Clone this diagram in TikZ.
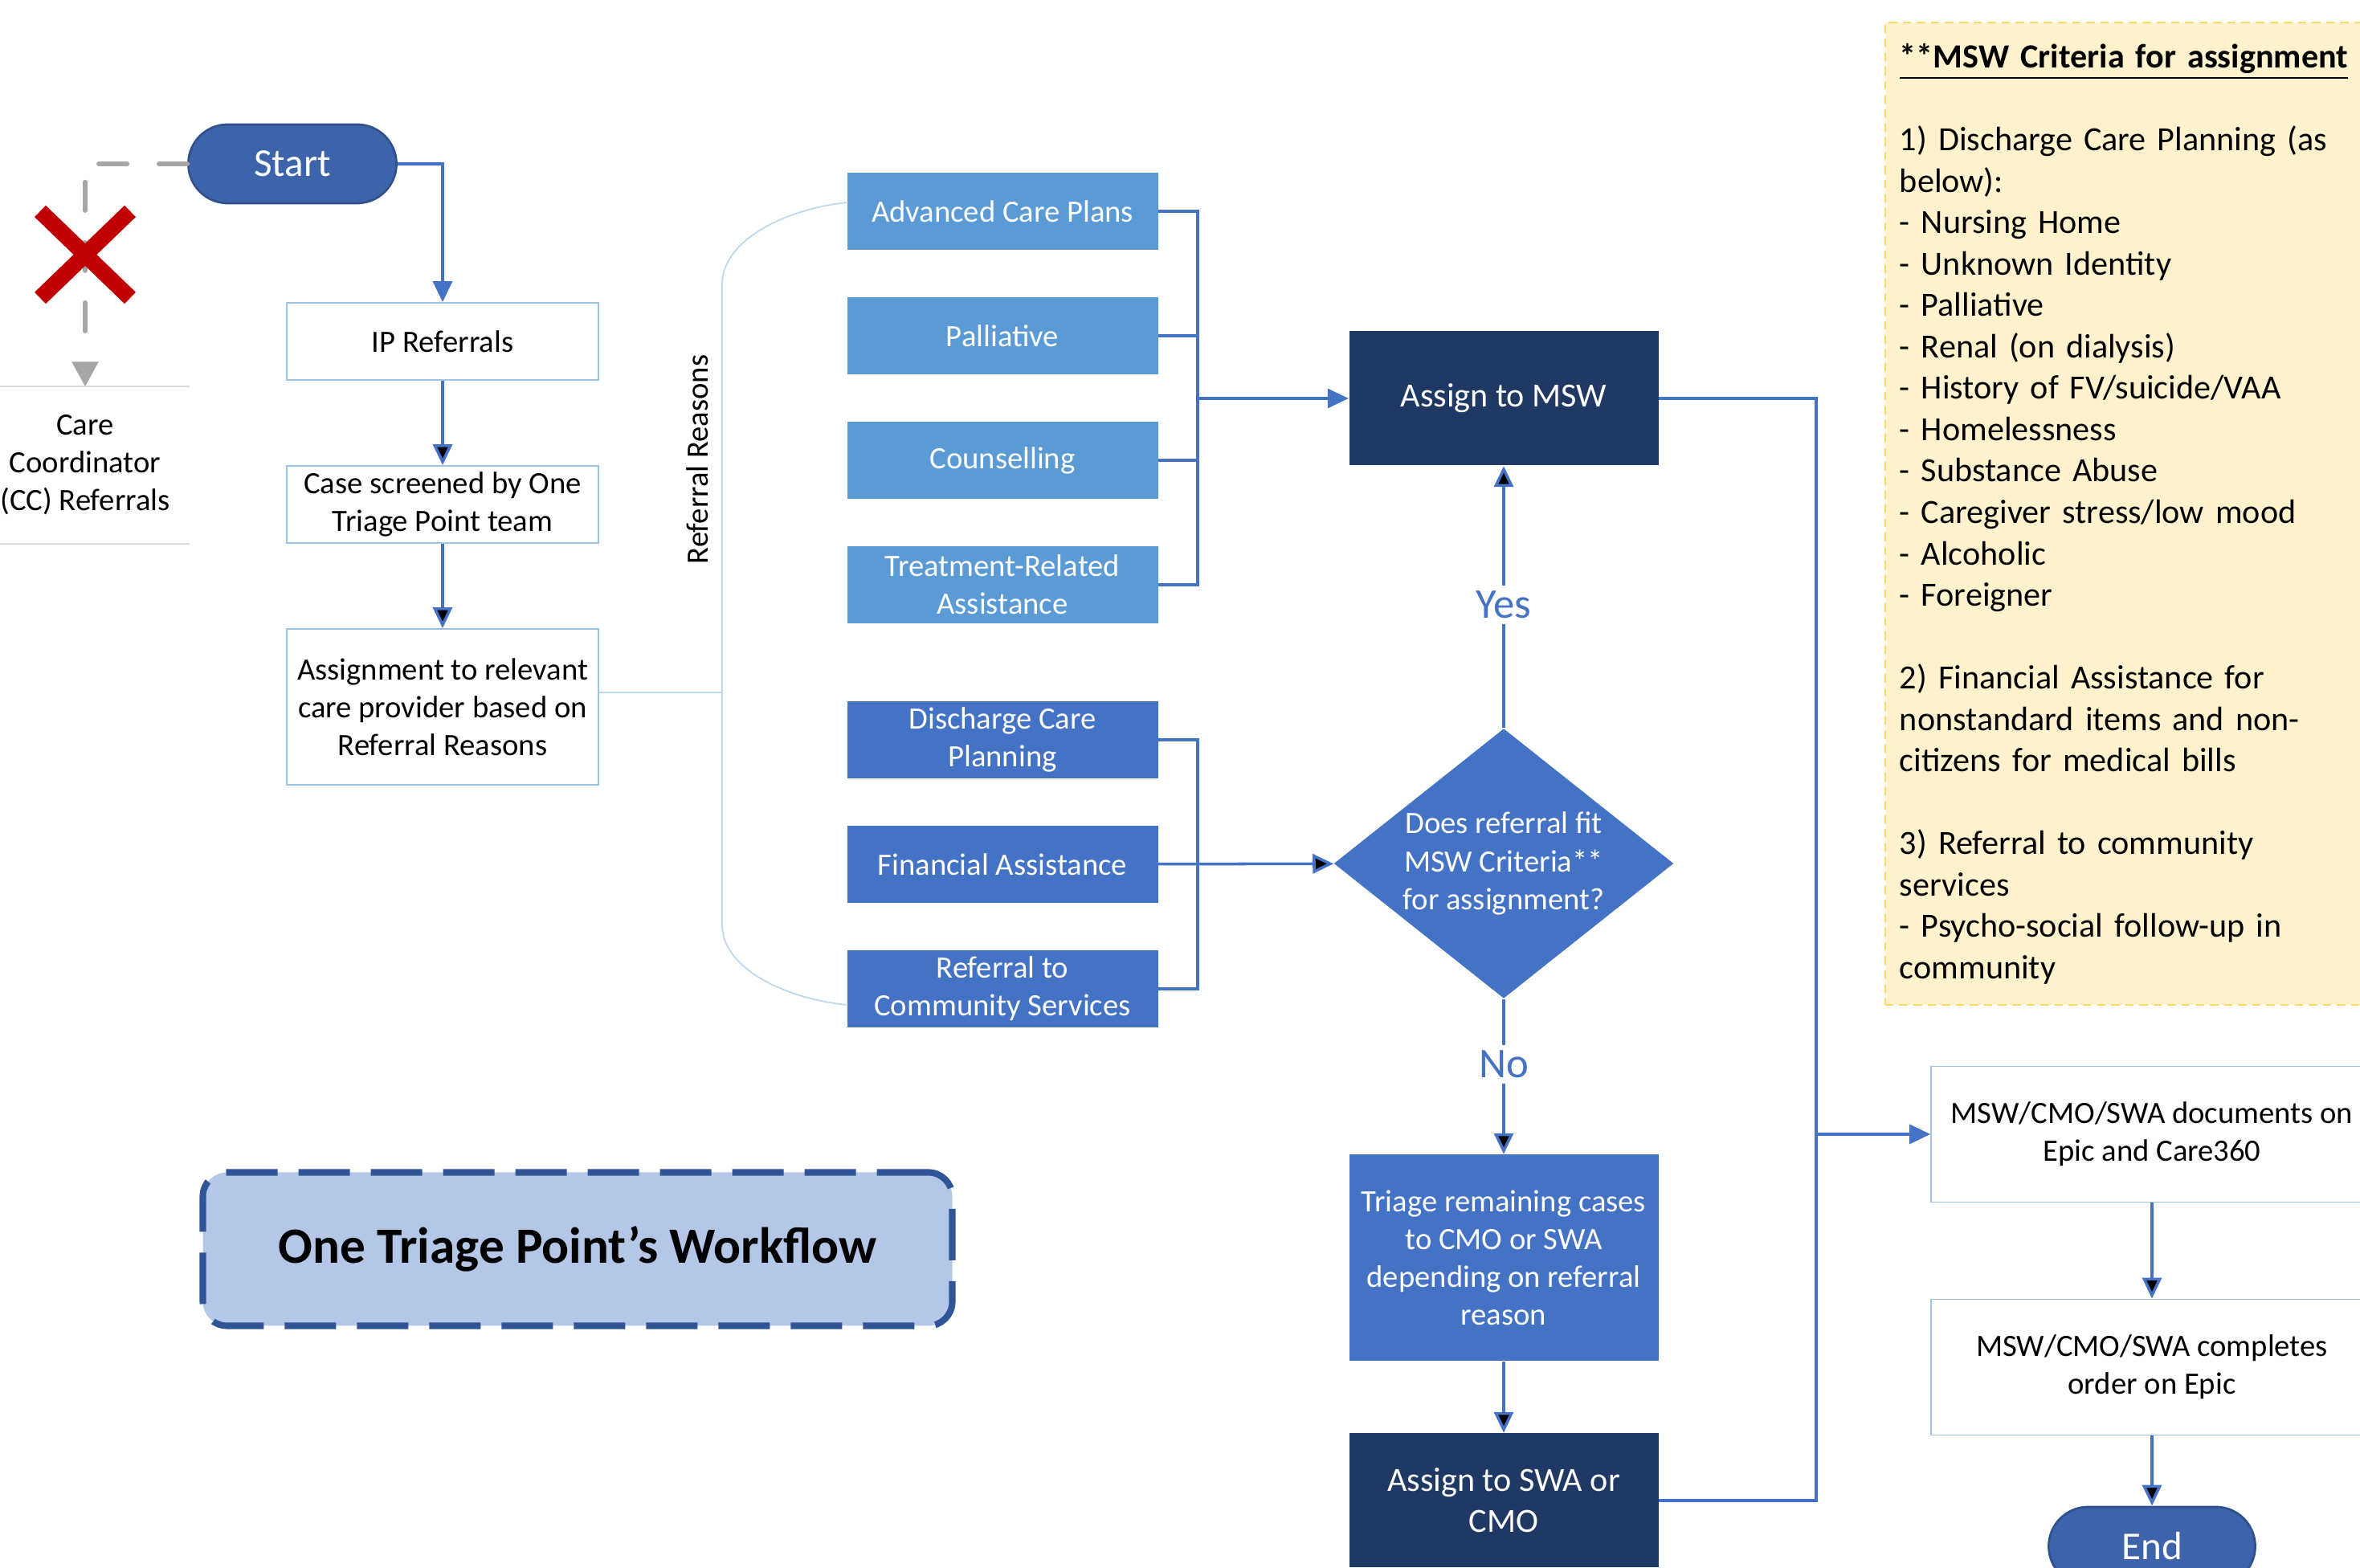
\documentclass[tikz,border=0pt]{standalone}
\usepackage{fontspec}
\setmainfont{Carlito}
\usetikzlibrary{arrows.meta,positioning,shapes.geometric,shapes.misc}

\definecolor{pillblue}{HTML}{3D64AA}
\definecolor{pillline}{HTML}{2F528F}
\definecolor{lightfill}{HTML}{5B9BD5}
\definecolor{midfill}{HTML}{4472C4}
\definecolor{darkfill}{HTML}{203864}
\definecolor{flowblue}{HTML}{4472C4}
\definecolor{boxline}{HTML}{9DC3E6}
\definecolor{braceline}{HTML}{BDD7EE}
\definecolor{greyline}{HTML}{A6A6A6}
\definecolor{crossred}{HTML}{C00000}
\definecolor{titlefill}{HTML}{B4C7E7}
\definecolor{titleline}{HTML}{2F5597}
\definecolor{critfill}{HTML}{FFF2CC}
\definecolor{critline}{HTML}{FFD966}
\definecolor{ccline}{HTML}{D9D9D9}

\begin{document}
\begin{tikzpicture}[%
>={Triangle[length=0.26cm,width=0.24cm]},
node distance=1.55cm,
on grid,
auto,
font=\fontsize{11}{13.4}\selectfont,
pill/.style={draw=pillline, line width=0.8pt, fill=pillblue, text=white, rounded corners=0.49cm, minimum width=2.59cm, minimum height=0.98cm, font=\fontsize{14}{16}\selectfont},
plain/.style={draw=boxline, line width=0.5pt, fill=white, align=center, minimum width=3.88cm, minimum height=0.96cm, inner sep=1pt},
reason/.style={fill=lightfill, text=white, align=center, minimum width=3.87cm, minimum height=0.96cm, inner sep=1pt},
group/.style={reason, fill=midfill},
dark/.style={fill=darkfill, text=white, align=center, minimum width=3.85cm, minimum height=1.67cm, font=\fontsize{12}{14.5}\selectfont},
decide/.style={diamond, fill=midfill, text=white, align=center, aspect=1.26, minimum width=4.23cm, minimum height=3.36cm, inner xsep=-0.08cm, inner ysep=-0.06cm},
flow/.style={draw=flowblue, line width=1pt},
nope/.style={draw=greyline, line width=1.7pt, line cap=round, dash pattern=on 0.35cm off 0.4cm},
brace/.style={draw=braceline, line width=0.5pt},
lbl/.style={fill=white, text=flowblue, auto=false, inner sep=2pt, font=\fontsize{15}{18}\selectfont},
titlebox/.style={draw=titleline, fill=titlefill, line width=2.3pt, dash pattern=on 0.64cm off 0.26cm, rounded corners=0.3cm, minimum width=9.33cm, minimum height=1.91cm, font=\fontsize{18}{21}\selectfont\bfseries},
crit/.style={draw=critline, fill=critfill, line width=0.5pt, dash pattern=on 3pt off 2pt, text width=5.9cm, align=left, minimum height=12.23cm, inner xsep=0.18cm, font=\fontsize{12}{14.66}\selectfont}
]
\useasboundingbox (0,0) rectangle (29.38,19.52);

\node[pill] (start) at (3.64,17.48) {Start};
\node[plain] (ip) at (5.51,15.27) {IP Referrals};
\node[plain] (case) [below=2.03 of ip] {Case screened by One\\Triage Point team};
\node[plain, minimum height=1.94cm] (assign) [below=2.52 of case] {Assignment to relevant\\care provider based on\\Referral Reasons};
\node[align=center, minimum width=2.58cm, minimum height=1.94cm] (cc) at (1.06,13.73) {Care\\Coordinator\\(CC) Referrals};
\node[rotate=90] (rr) at (8.68,13.80) {Referral Reasons};

\node[reason] (acp) at (12.48,16.89) {Advanced Care Plans};
\node[reason] (pal) [below of=acp] {Palliative};
\node[reason] (cou) [below of=pal] {Counselling};
\node[reason] (trt) [below of=cou] {Treatment-Related\\Assistance};
\node[group] (dcp) [below=1.93 of trt] {Discharge Care\\Planning};
\node[group] (fin) [below of=dcp] {Financial Assistance};
\node[group] (rcs) [below of=fin] {Referral to\\Community Services};

\node[dark] (msw) at (18.72,14.56) {Assign to MSW};
\node[decide] (dec) at (18.72,8.77) {Does referral fit\\MSW Criteria**\\for assignment?};
\node[reason, fill=midfill, minimum width=3.85cm, minimum height=2.57cm] (tri) at (18.72,3.86) {Triage remaining cases\\to CMO or SWA\\depending on referral\\reason};
\node[dark] (swa) [below=3.02 of tri] {Assign to SWA or\\CMO};

\node[plain, minimum width=5.5cm, minimum height=1.69cm] (docs) at (26.79,5.40) {MSW/CMO/SWA documents on\\Epic and Care360};
\node[plain, minimum width=5.5cm, minimum height=1.69cm] (comp) [below=2.90 of docs] {MSW/CMO/SWA completes\\order on Epic};
\node[pill, minimum width=2.57cm] (end) [below=2.23 of comp] {End};

\node[titlebox] (ttl) at (7.19,3.97) {One Triage Point’s Workflow};

\node[crit, anchor=north west] (crit) at (23.46,19.25) {\textbf{\underline{**MSW Criteria for assignment}}\\[14.66pt]
1) Discharge Care Planning (as\\
below):\\
- Nursing Home\\
- Unknown Identity\\
- Palliative\\
- Renal (on dialysis)\\
- History of FV/suicide/VAA\\
- Homelessness\\
- Substance Abuse\\
- Caregiver stress/low mood\\
- Alcoholic\\
- Foreigner\\[14.66pt]
2) Financial Assistance for\\
nonstandard items and non-\\
citizens for medical bills\\[14.66pt]
3) Referral to community\\
services\\
- Psycho-social follow-up in\\
community\\[-13pt]\mbox{}};

\coordinate (bt) at (8.99,15.98);
\coordinate (bb) at (8.99,8.00);
\coordinate (bm) at (8.99,10.90);
\coordinate (j1) at (14.91,14.56);
\coordinate (j2) at (14.91,8.77);
\coordinate (j3) at (22.61,5.40);

\draw[nope,-{Triangle[length=0.31cm,width=0.32cm]}] (start) -| (cc);
\draw[draw=ccline, line width=0.6pt] (cc.north west) -- (cc.north east) (cc.south west) -- (cc.south east);
\node[cross out, draw=crossred, line width=0.2cm, minimum width=0.92cm, minimum height=0.88cm, inner sep=0pt] (nox) at (1.06,16.35) {};

\draw[flow,->] (start) -| (ip);
\path[flow,->] (ip) edge (case);
\path[flow,->] (case) edge (assign);

\draw[brace] ([yshift=0.11cm]acp.west) .. controls (9.7,16.9) and (8.99,16.5) .. (bt) -- (bb) .. controls (8.99,7.5) and (9.7,7.1) .. ([yshift=-0.2cm]rcs.west);
\draw[brace] (assign.east |- bm) -- (bm);

\draw[flow] (acp) -| (j1);
\draw[flow] (pal) -| (j1);
\draw[flow] (cou) -| (j1);
\draw[flow] (trt) -| (j1);
\draw[flow,->] (j1) -- (msw);
\draw[flow] (dcp) -| (j2);
\draw[flow] (rcs) -| (j2);
\path[flow,->] (fin) edge (dec);

\path[flow,->] (dec) edge node[lbl, pos=0.47] {Yes} (msw);
\path[flow,->] (dec) edge node[lbl, pos=0.42] {No} (tri);
\path[flow,->] (tri) edge (swa);

\draw[flow] (msw) -| (j3);
\draw[flow] (swa) -| (j3);
\draw[flow,->] (j3) -- (docs);
\path[flow,->] (docs) edge (comp);
\path[flow,->] (comp) edge (end);

\end{tikzpicture}
\end{document}
